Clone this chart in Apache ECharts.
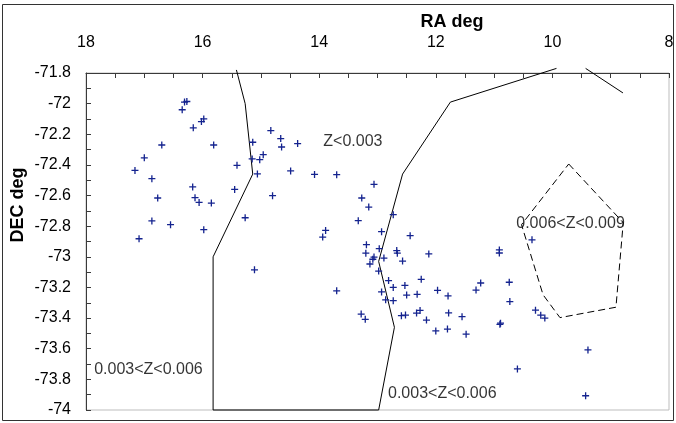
<!DOCTYPE html>
<html><head><meta charset="utf-8">
<script src="https://cdn.jsdelivr.net/npm/echarts@6/dist/echarts.min.js"></script>
<style>html,body{margin:0;padding:0;background:#fff}#c{width:676px;height:423px}</style>
</head><body><div id="c"></div>
<script>
// ---- data ----
const xTickLabels = [18, 16, 14, 12, 10, 8];
const yTickLabels = [-71.8, -72, -72.2, -72.4, -72.6, -72.8, -73, -73.2, -73.4, -73.6, -73.8, -74];

const pointRA = [16.31,16.27,16.35,15.98,16.02,16.16,16.70,15.81,17.00,17.16,
  16.87,15.41,16.17,15.45,16.77,16.13,16.06,15.85,16.87,16.55,
  15.98,17.09,15.27,15.14,15.15,15.02,14.96,15.06,14.83,14.66,
  14.645,14.37,14.49,14.08,13.70,13.06,14.80,13.27,13.15,12.73,
  13.33,13.89,13.94,12.93,12.44,13.19,12.97,13.20,13.06,13.08,
  12.89,12.67,12.66,12.57,12.12,15.11,13.13,12.98,12.81,12.73,
  12.53,12.25,11.97,11.79,12.93,12.86,12.73,12.50,12.32,13.70,
  13.28,13.21,12.59,12.52,12.33,12.27,12.16,11.78,11.55,12.00,
  11.80,11.48,10.91,10.91,11.23,11.31,10.74,10.73,10.90,10.89,
  10.35,10.29,10.20,10.13,9.39,10.60,9.43];
const pointDEC = [-71.99,-71.986,-72.04,-72.10,-72.117,-72.158,-72.27,-72.27,-72.354,-72.436,
  -72.49,-72.403,-72.544,-72.56,-72.616,-72.614,-72.645,-72.649,-72.766,-72.79,
  -72.823,-72.882,-72.745,-72.252,-72.361,-72.366,-72.333,-72.459,-72.176,-72.228,
  -72.283,-72.261,-72.439,-72.462,-72.464,-72.527,-72.601,-72.616,-72.675,-72.725,
  -72.764,-72.828,-72.871,-72.836,-72.862,-72.921,-72.947,-72.976,-73.002,-73.016,
  -73.008,-72.959,-72.976,-73.028,-72.981,-73.085,-73.047,-73.093,-73.155,-73.20,
  -73.187,-73.147,-73.219,-73.255,-73.229,-73.281,-73.286,-73.25,-73.245,-73.222,
  -73.374,-73.408,-73.384,-73.38,-73.367,-73.35,-73.413,-73.366,-73.391,-73.484,
  -73.472,-73.505,-72.955,-72.975,-73.171,-73.217,-73.166,-73.292,-73.441,-73.433,
  -72.889,-73.348,-73.381,-73.40,-73.608,-73.732,-73.907];

const boundaryRA  = [15.42, 15.27, 15.14, 15.82, 15.82, 12.98, 12.71, 12.98, 12.57, 11.75, 9.93];
const boundaryDEC = [-71.78, -72.0, -72.46, -73.0, -74.0, -74.0, -73.46, -73.03, -72.46, -71.99, -71.77];
const edgeRA  = [9.43, 8.79];
const edgeDEC = [-71.77, -71.93];
const zoneRA  = [9.72, 8.785, 8.91, 9.87, 10.16, 10.53, 9.72];
const zoneDEC = [-72.394, -72.777, -73.329, -73.397, -73.248, -72.79, -72.394];

const noteText = ['Z<0.003', '0.006<Z<0.009', '0.003<Z<0.006', '0.003<Z<0.006'];
const noteRA   = [13.93, 10.62, 17.86, 12.82];
const noteDEC  = [-72.246, -72.784, -73.739, -73.895];

// ---- chart ----
const FONT = '"Liberation Sans", Arial, sans-serif';
const pair = (a, b) => a.map((v, i) => [v, b[i]]);
const chart = echarts.init(document.getElementById('c'), null, {renderer: 'canvas'});
const axisCol = '#3a3a3a';

chart.setOption({
  animation: false,
  backgroundColor: '#ffffff',
  grid: {left: 86, right: 7, top: 73, bottom: 13, show: true, borderColor: '#bdbdbd', borderWidth: 1,
         backgroundColor: 'transparent', containLabel: false, outerBoundsMode: 'none'},
  xAxis: {
    type: 'value', position: 'top', inverse: true, min: 8, max: 18, interval: 2,
    axisLine: {show: true, onZero: false, lineStyle: {color: axisCol, width: 1}},
    axisTick: {show: true, inside: true, length: 5, lineStyle: {color: axisCol}},
    minorTick: {show: true, splitNumber: 4, length: 5, lineStyle: {color: axisCol}},
    splitLine: {show: false}, minorSplitLine: {show: false},
    axisLabel: {margin: 22, fontSize: 16, color: '#000', fontFamily: FONT,
      showMinLabel: true, showMaxLabel: true,
      formatter: v => String(xTickLabels.find(t => Math.abs(t - v) < 1e-6) ?? v)}
  },
  yAxis: {
    type: 'value', min: -74, max: -71.8, interval: 0.2,
    axisLine: {show: true, onZero: false, lineStyle: {color: axisCol, width: 1}},
    axisTick: {show: true, inside: true, length: 5, lineStyle: {color: axisCol}},
    minorTick: {show: true, splitNumber: 2, length: 5, lineStyle: {color: axisCol}},
    splitLine: {show: false}, minorSplitLine: {show: false},
    axisLabel: {margin: 15, fontSize: 16, color: '#000', fontFamily: FONT,
      showMinLabel: true, showMaxLabel: true,
      formatter: v => { const t = yTickLabels.find(t => Math.abs(t - v) < 1e-6); return String(t ?? +v.toFixed(1)); }}
  },
  graphic: [
    {type: 'rect', z: 100, silent: true, shape: {x: 2.5, y: 4.5, width: 671, height: 416},
     style: {fill: 'none', stroke: '#333', lineWidth: 1}},
    {type: 'text', x: 452, y: 22, silent: true,
     style: {text: 'RA deg', fontFamily: FONT, fontSize: 18, fontWeight: 'bold', fill: '#000',
             textAlign: 'center', textVerticalAlign: 'middle'}},
    {type: 'text', x: 18, y: 205, rotation: Math.PI / 2, silent: true,
     style: {text: 'DEC deg', fontFamily: FONT, fontSize: 18, fontWeight: 'bold', fill: '#000',
             textAlign: 'center', textVerticalAlign: 'middle'}}
  ],
  series: [
    {type: 'line', name: 'boundary', data: pair(boundaryRA, boundaryDEC), symbol: 'none', clip: false,
     lineStyle: {color: '#000', width: 1}, silent: true, z: 2},
    {type: 'line', name: 'edge', data: pair(edgeRA, edgeDEC), symbol: 'none', clip: false,
     lineStyle: {color: '#000', width: 1}, silent: true, z: 2},
    {type: 'line', name: 'zone', data: pair(zoneRA, zoneDEC), symbol: 'none', clip: false,
     lineStyle: {color: '#000', width: 1, type: [7, 4]}, silent: true, z: 2},
    {type: 'scatter', name: 'galaxies', data: pair(pointRA, pointDEC),
     symbol: 'path://M0,5H10M5,0V10', symbolSize: 7, silent: true, z: 3,
     itemStyle: {color: 'none', borderColor: '#14238f', borderWidth: 1.3, opacity: 1}},
    {type: 'scatter', name: 'notes', data: noteText.map((t, i) => ({value: [noteRA[i], noteDEC[i]], name: t})),
     symbolSize: 0, silent: true, z: 4,
     label: {show: true, position: 'right', distance: 0, formatter: p => p.name,
             fontFamily: FONT, fontSize: 16, color: '#000', align: 'left', verticalAlign: 'middle'}}
  ]
});
</script>
</body></html>
